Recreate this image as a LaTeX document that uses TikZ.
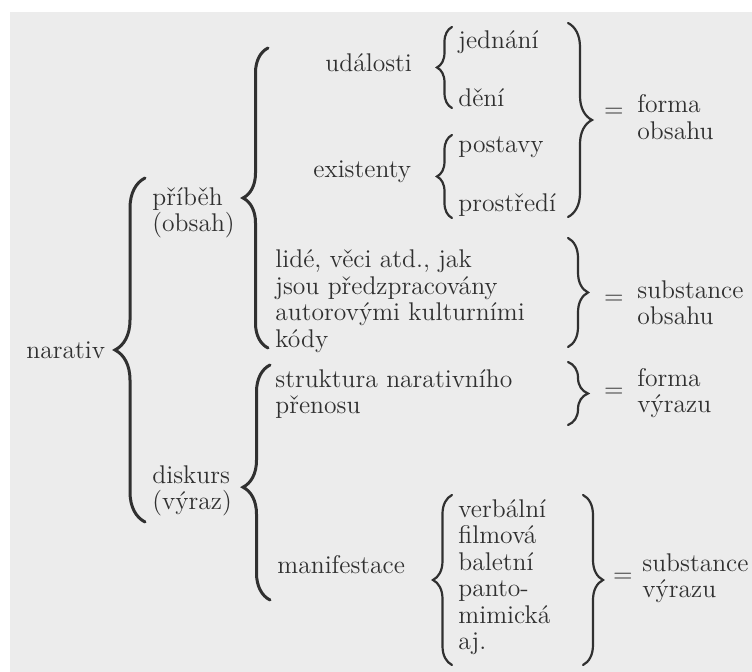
\documentclass[tikz,border=0pt]{standalone}
\usetikzlibrary{decorations.pathreplacing}
\definecolor{scanbg}{RGB}{236,236,236}
\definecolor{scanink}{RGB}{48,48,48}
\begin{document}
\begin{tikzpicture}[x=0.5pt,y=-0.5pt,
    every node/.style={font=\fontsize{12.8}{13.25}\selectfont,text=scanink},
    txt/.style={anchor=west,inner sep=0pt,align=left},
    eq/.style={inner sep=0pt},
    bigcurly/.style={decorate,decoration={brace,amplitude=#1},
                     draw=scanink,line width=1.5pt,line cap=round},
    smallcurly/.style={decorate,decoration={brace,amplitude=#1},
                       draw=scanink,line width=1.1pt,line cap=round}]
  \useasboundingbox (0,0) rectangle (752,672);
  \fill[scanbg] (10,12) rectangle (752,672);

  % first column
  \node[txt] (narativ) at (26,350) {narativ};
  \node[txt] (pribeh) at (152,213) {příběh\\(obsah)};
  \node[txt] (diskurs) at (152,491) {diskurs\\(výraz)};

  % second column
  \node[txt] (udalosti) at (325,63) {události};
  \node[txt] (existenty) at (313,172) {existenty};
  \node[txt] (lide) at (275,301) {lidé, věci atd., jak\\jsou předzpracovány\\autorovými kulturními\\kódy};
  \node[txt] (struktura) at (275,394) {struktura narativního\\přenosu};
  \node[txt] (manifest) at (277,565) {manifestace};

  % third column
  \node[txt] (jednani) at (458,42) {jednání};
  \node[txt] (deni) at (458,98) {dění};
  \node[txt] (postavy) at (458,147) {postavy};
  \node[txt] (prostredi) at (458,205) {prostředí};
  \node[txt] (druhy) at (458,577) {verbální\\filmová\\baletní\\panto-\\mimická\\aj.};

  % results
  \node[eq] (eqA) at (614,113) {=};
  \node[eq] (eqB) at (614,300) {=};
  \node[eq] (eqC) at (614,393) {=};
  \node[eq] (eqD) at (623,578) {=};
  \node[txt] (formaObs) at (637,117) {forma\\obsahu};
  \node[txt] (substObs) at (637,303) {substance\\obsahu};
  \node[txt] (formaVyr) at (637,393) {forma\\výrazu};
  \node[txt] (substVyr) at (642,578) {substance\\výrazu};

  % brace ends
  \coordinate (narT) at (145,178);   \coordinate (narB) at (145,522);
  \coordinate (priT) at (268,48);    \coordinate (priB) at (268,348);
  \coordinate (disT) at (270,365);   \coordinate (disB) at (270,600);
  \coordinate (udaT) at (452,27);    \coordinate (udaB) at (452,108);
  \coordinate (exiT) at (452,135);   \coordinate (exiB) at (452,218);
  \coordinate (manT) at (452,495);   \coordinate (manB) at (452,665);
  \coordinate (foT) at (568,23);     \coordinate (foB) at (568,217);
  \coordinate (soT) at (568,238);    \coordinate (soB) at (568,347);
  \coordinate (fvT) at (568,362);    \coordinate (fvB) at (568,425);
  \coordinate (svT) at (583,495);    \coordinate (svB) at (583,665);

  % opening braces
  \draw[bigcurly=15pt] (narB) -- (narT);
  \draw[bigcurly=12.5pt] (priB) -- (priT);
  \draw[bigcurly=13.5pt,decoration={aspect=0.48}] (disB) -- (disT);
  \draw[smallcurly=7.5pt] (udaB) -- (udaT);
  \draw[smallcurly=7.5pt] (exiB) -- (exiT);
  \draw[smallcurly=9.5pt] (manB) -- (manT);

  % closing braces
  \draw[smallcurly=12pt] (foT) -- (foB);
  \draw[smallcurly=10pt] (soT) -- (soB);
  \draw[smallcurly=10pt] (fvT) -- (fvB);
  \draw[smallcurly=10pt] (svT) -- (svB);
\end{tikzpicture}
\end{document}
